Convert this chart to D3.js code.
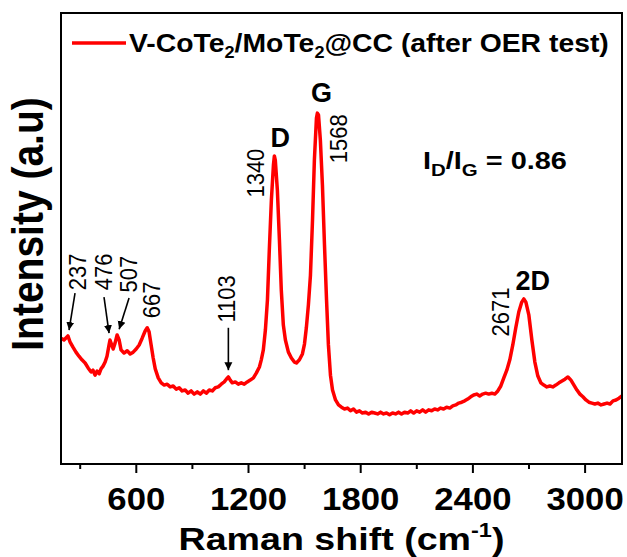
<!DOCTYPE html>
<html>
<head>
<meta charset="utf-8">
<script src="https://cdn.jsdelivr.net/npm/d3@7"></script>
<style>
  body { margin: 0; background: #fff; }
  text { font-family: "Liberation Sans", Arial, sans-serif; }
</style>
</head>
<body>
<div id="chart"></div>
<script>
// Raman spectrum, values (intensity in a.u.)
var shift = [200,216,237,248,264,280,296,312,329,345,361,371,382,393,404,414,425,436,446,457,462,
  473,479,489,500,511,521,537,554,570,586,602,618,634,650,661,671,682,693,704,720,
  736,752,768,784,800,816,832,848,864,880,896,912,929,945,961,977,993,1009,1025,1041,
  1057,1073,1084,1095,1105,1116,1132,1148,1164,1180,1196,1212,1229,1245,1261,1271,1282,1293,1304,1314,
  1325,1336,1341,1346,1357,1368,1378,1389,1400,1416,1432,1448,1459,1475,1491,1502,1512,1523,1534,1545,
  1555,1566,1571,1577,1587,1598,1609,1620,1630,1641,1652,1668,1684,1700,1716,1732,1748,1764,1780,1796,
  1812,1829,1845,1861,1877,1893,1909,1925,1941,1957,1973,1989,2005,2021,2037,2054,2070,2086,2102,2118,
  2134,2150,2166,2182,2198,2214,2230,2246,2262,2279,2295,2311,2327,2343,2359,2375,2391,2407,2423,2439,
  2455,2471,2487,2504,2520,2536,2552,2568,2584,2600,2616,2632,2648,2664,2675,2686,2702,2718,2734,2750,
  2766,2782,2798,2814,2830,2846,2863,2879,2895,2911,2927,2943,2959,2975,2991,3007,3023,3039,3055,3071,
  3088,3104,3120,3136,3152,3168,3184,3200];
var intensity = [27.9,27.5,28.4,27.1,25.9,24.8,23.9,23.1,22.4,21.3,20.4,20.8,19.7,20.6,20.0,21.1,21.7,22.6,23.9,26.4,27.5,
  26.2,25.5,26.8,28.6,27.5,25.3,24.6,25.1,24.4,24.8,25.5,26.4,27.9,29.5,30.2,29.3,26.4,23.5,21.1,19.1,
  18.0,17.5,17.7,17.1,17.3,16.6,16.9,16.2,16.4,15.7,16.2,15.5,16.0,15.5,16.2,15.7,16.4,16.2,16.9,17.1,
  17.7,18.2,18.8,19.3,18.6,18.0,18.2,17.7,18.0,17.7,18.2,18.6,19.1,20.2,21.5,23.1,25.3,29.7,36.4,47.5,
  58.5,66.3,68.3,67.4,60.8,49.7,38.6,30.8,27.5,24.8,23.5,22.6,22.4,23.1,24.4,26.6,30.2,35.3,41.9,54.1,
  67.4,76.7,77.8,77.4,71.8,61.9,48.6,36.4,26.4,19.7,16.4,14.2,13.1,12.6,12.2,12.4,11.8,12.2,11.5,11.8,
  11.3,11.5,11.1,11.5,11.3,11.1,11.5,11.1,11.3,10.9,11.3,11.1,11.5,11.1,11.5,11.3,11.8,11.3,11.8,11.5,
  12.0,11.5,12.0,11.8,12.2,12.0,12.4,12.2,12.6,12.4,12.9,13.1,13.5,13.7,14.0,14.4,14.9,15.3,15.5,15.1,
  15.5,15.7,15.5,15.7,15.5,16.2,17.3,19.1,20.8,23.1,26.4,30.2,33.7,35.9,36.6,35.9,33.0,27.5,22.6,19.5,
  18.0,17.5,17.1,17.3,17.1,17.5,18.0,18.4,18.8,19.3,18.6,17.5,16.4,15.5,14.9,14.2,13.7,13.5,13.3,13.5,
  13.1,13.3,13.5,13.3,14.0,14.2,14.6,15.1];

var majorTicks = [600, 1200, 1800, 2400, 3000];
var minorTicks = [300, 900, 1500, 2100, 2700];

// peak labels: text, position of label centre (shift, intensity)
var peakLabels = ["237", "476", "507", "667", "1103", "1340", "1568", "2671"];
var peakLabelX = [286, 425, 559, 682, 1084, 1239, 1684, 2552];
var peakLabelY = [42.6, 42.6, 42.1, 36.4, 36.6, 64.5, 72.1, 33.7];

// arrows: from (x1,y1) to tip (x2,y2), in data units
var arrowX1 = [275, 430, 564, 1095];
var arrowY1 = [37.9, 37.0, 36.8, 30.2];
var arrowX2 = [243, 457, 511, 1095];
var arrowY2 = [29.7, 29.0, 29.9, 20.8];

// band names
var bandNames = ["D", "G", "2D"];
var bandX = [1373, 1593, 2723];
var bandY = [70.3, 80.3, 38.6];

const width = 627, height = 557;
const margin = { top: 13, right: 5, bottom: 93, left: 61 };

const x = d3.scaleLinear().domain([200, 3200]).range([margin.left, width - margin.right]);
const y = d3.scaleLinear().domain([0, 100]).range([height - margin.bottom, margin.top]);

// stretch a text horizontally to the given width (pivot at left edge, or centre)
function fitWidth(sel, target, centred) {
    const bb = sel.node().getBBox();
    const s = target / bb.width;
    const px = centred ? bb.x + bb.width / 2 : bb.x;
    sel.attr("transform", `translate(${px}, 0) scale(${s}, 1) translate(${-px}, 0)`);
}

const svg = d3.select("#chart").append("svg")
    .attr("width", width)
    .attr("height", height);

svg.append("defs").append("marker")
    .attr("id", "arrow")
    .attr("viewBox", "0 0 10 10")
    .attr("refX", 10).attr("refY", 5)
    .attr("markerWidth", 5).attr("markerHeight", 6)
    .attr("markerUnits", "strokeWidth")
    .attr("orient", "auto")
    .append("path").attr("d", "M0,0 L10,5 L0,10 Z").attr("fill", "#000");

// spectrum
const data = shift.map((s, i) => [s, intensity[i]]);
const line = d3.line().x(d => x(d[0])).y(d => y(d[1]));

svg.append("path")
    .datum(data)
    .attr("fill", "none")
    .attr("stroke", "#ff0000")
    .attr("stroke-width", 3.5)
    .attr("stroke-linejoin", "round")
    .attr("d", line);

// frame
svg.append("rect")
    .attr("x", margin.left).attr("y", margin.top)
    .attr("width", width - margin.left - margin.right)
    .attr("height", height - margin.top - margin.bottom)
    .attr("fill", "none").attr("stroke", "#000").attr("stroke-width", 2);

// x axis
const gx = svg.append("g")
    .attr("transform", `translate(0, ${height - margin.bottom})`)
    .call(d3.axisBottom(x).tickValues(majorTicks).tickSize(9).tickPadding(15).tickFormat(d3.format("d")));
gx.select(".domain").remove();
gx.selectAll("line").attr("stroke-width", 2);
gx.selectAll("text")
    .attr("font-size", 31).attr("font-weight", "bold").attr("fill", "#000")
    .attr("transform", "scale(1.12, 1)")
    .style("font-family", '"Liberation Sans", Arial, sans-serif');

const gm = svg.append("g")
    .attr("transform", `translate(0, ${height - margin.bottom})`)
    .call(d3.axisBottom(x).tickValues(minorTicks).tickSize(5).tickFormat(""));
gm.select(".domain").remove();
gm.selectAll("line").attr("stroke-width", 2);

// axis titles
const xt = svg.append("text")
    .attr("x", (margin.left + width - margin.right) / 2)
    .attr("y", 550)
    .attr("text-anchor", "middle")
    .attr("font-size", 32).attr("font-weight", "bold");
xt.append("tspan").text("Raman shift (cm");
xt.append("tspan").attr("dy", -13).attr("font-size", 20).text("-1");
xt.append("tspan").attr("dy", 13).text(")");
fitWidth(xt, 326, true);

svg.append("text")
    .attr("transform", "translate(43, 224) rotate(-90) scale(1, 1.12)")
    .attr("text-anchor", "middle")
    .attr("font-size", 39).attr("font-weight", "bold")
    .text("Intensity (a.u)");

// legend
svg.append("line")
    .attr("x1", 72).attr("x2", 126).attr("y1", 43).attr("y2", 43)
    .attr("stroke", "#ff0000").attr("stroke-width", 3.5);
const lg = svg.append("text")
    .attr("x", 129).attr("y", 52)
    .attr("font-size", 25).attr("font-weight", "bold");
lg.append("tspan").text("V-CoTe");
lg.append("tspan").attr("dy", 6).attr("font-size", 16).text("2");
lg.append("tspan").attr("dy", -6).text("/MoTe");
lg.append("tspan").attr("dy", 6).attr("font-size", 16).text("2");
lg.append("tspan").attr("dy", -6).text("@CC (after OER test)");
fitWidth(lg, 480);

// ratio
const rt = svg.append("text")
    .attr("x", 423).attr("y", 169)
    .attr("font-size", 24).attr("font-weight", "bold");
rt.append("tspan").text("I");
rt.append("tspan").attr("dy", 7).attr("font-size", 17).text("D");
rt.append("tspan").attr("dy", -7).text("/I");
rt.append("tspan").attr("dy", 7).attr("font-size", 17).text("G");
rt.append("tspan").attr("dy", -7).text(" = 0.86");
fitWidth(rt, 144);

// peak position labels (rotated)
svg.selectAll(".peak")
    .data(peakLabels)
    .join("text")
    .attr("class", "peak")
    .attr("transform", (d, i) => `translate(${x(peakLabelX[i])}, ${y(peakLabelY[i])}) rotate(-90) scale(1, 1.08)`)
    .attr("text-anchor", "middle")
    .attr("dy", "0.36em")
    .attr("font-size", 22)
    .text(d => d);

// arrows
svg.selectAll(".arrow")
    .data(arrowX1)
    .join("line")
    .attr("class", "arrow")
    .attr("x1", (d, i) => x(arrowX1[i])).attr("y1", (d, i) => y(arrowY1[i]))
    .attr("x2", (d, i) => x(arrowX2[i])).attr("y2", (d, i) => y(arrowY2[i]))
    .attr("stroke", "#000").attr("stroke-width", 1.6)
    .attr("marker-end", "url(#arrow)");

// band names
svg.selectAll(".band")
    .data(bandNames)
    .join("text")
    .attr("class", "band")
    .attr("x", (d, i) => x(bandX[i]))
    .attr("y", (d, i) => y(bandY[i]))
    .attr("text-anchor", "middle")
    .attr("font-size", 27).attr("font-weight", "bold")
    .text(d => d);
</script>
</body>
</html>
